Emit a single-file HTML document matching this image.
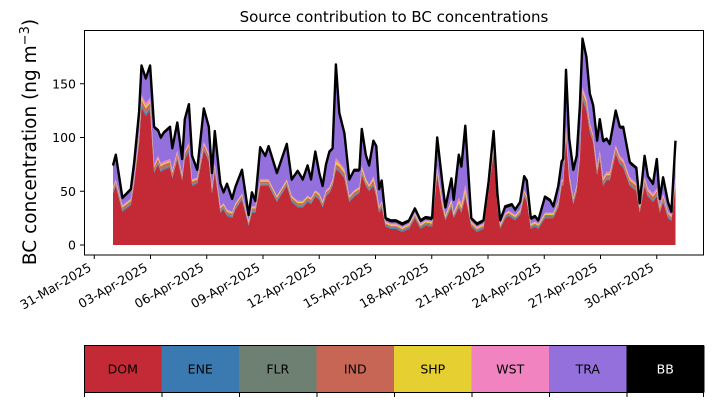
<!DOCTYPE html>
<html><head><meta charset="utf-8"><style>
body{margin:0;background:#fff;}
svg{display:block;font-family:"DejaVu Sans","Liberation Sans",sans-serif;}
</style></head><body>
<svg id="chart" width="714" height="402" viewBox="0 0 714 402">
<text x="394" y="22" text-anchor="middle" font-size="15">Source contribution to BC concentrations</text>
<text transform="translate(36,142) rotate(-90)" text-anchor="middle" font-size="18.5">BC concentration (ng m<tspan dy="-7" font-size="13">−3</tspan><tspan dy="7">)</tspan></text>
<g id="plot"></g>
<g id="xaxis"></g>
<g id="yaxis"></g>
<rect x="84.5" y="30.5" width="619" height="224.5" fill="none" stroke="#000" stroke-width="1"/>
<g id="legend"></g>
</svg>
<script>
const days = [0,0.15,0.5,0.95,1.13,1.39,1.52,1.75,1.98,2.19,2.4,2.55,2.72,3.04,3.16,3.43,3.69,3.83,4.05,4.22,4.49,4.84,5.11,5.28,5.43,5.73,5.9,6.08,6.35,6.53,6.88,7.23,7.41,7.59,7.85,8.12,8.3,8.74,9.27,9.53,9.85,10.12,10.38,10.56,10.79,11.0,11.18,11.36,11.54,11.71,11.89,12.07,12.34,12.6,12.87,13.14,13.27,13.48,13.66,13.89,14.04,14.19,14.33,14.54,14.81,15.08,15.43,15.79,16.1,16.4,16.67,17.02,17.29,17.55,17.73,18.05,18.17,18.44,18.58,18.79,19.11,19.41,19.76,20.03,20.3,20.5,20.65,20.92,21.1,21.27,21.45,21.71,21.93,22.07,22.28,22.5,22.68,23.04,23.3,23.48,23.75,23.93,24.01,24.16,24.33,24.55,24.73,24.9,25.04,25.25,25.43,25.61,25.82,25.96,26.14,26.32,26.49,26.81,27.03,27.21,27.56,27.91,28.09,28.35,28.53,28.8,29.0,29.16,29.34,29.6,29.78,30.0];
const dom = [48,55,31,37,57,95,128,120,125,67,75,68,70,72,62,80,60,80,86,55,57,88,78,48,68,30,33,27,25,33,42,18,30,30,55,55,55,40,55,40,35,35,40,38,45,42,35,45,48,55,70,68,62,40,45,48,65,55,50,55,45,30,35,17,15,15,12,15,25,15,18,17,65,35,23,35,25,35,30,45,17,12,15,50,85,35,15,25,27,25,23,28,45,40,15,17,15,25,25,25,35,55,55,100,60,38,50,80,135,125,105,95,65,80,55,60,60,85,75,72,55,50,30,55,45,40,45,30,40,25,22,55];
const tra = [18,21,5,7,12,17,25,21,28,33,22,22,25,28,18,24,12,27,34,20,5,29,22,11,28,19,8,22,10,13,20,3,11,3,28,20,29,19,31,13,26,18,26,15,34,17,12,22,31,27,85,44,31,13,17,14,32,20,16,31,37,14,17,1,1,1,1,1,2,1,1,1,25,15,5,17,10,38,32,53,1,1,1,1,11,5,1,4,3,6,3,5,11,12,3,3,1,13,10,4,12,15,17,50,30,24,25,40,43,36,25,25,22,27,32,29,24,30,25,28,12,12,1,18,9,7,25,5,13,7,1,32];
const ene = [1,1,1,1,1,2,2,2,2,1,1,1,1,1,1,1,1,1,2,1,1,1,1,1,1,1,1,1,1,1,1,1,1,1,1,1,1,1,1,1,1,1,1,1,1,1,1,1,1,1,1,1,1,1,1,1,1,1,1,1,1,1,1,1,1,1,1,1,1,1,1,1,1,1,1,1,1,1,1,1,1,1,1,1,1,1,1,1,1,1,1,1,1,1,1,1,1,1,1,1,1,1,1,2,1,1,1,1,2,2,2,1,1,1,1,1,1,1,1,1,1,1,1,1,1,1,1,1,1,1,1,1];
const flr = [1,1,1,1,1,1,1,1,1,1,1,1,1,1,1,1,1,1,1,1,1,1,1,1,1,1,1,1,1,1,1,1,1,1,1,1,1,1,1,1,1,1,1,1,1,1,1,1,1,1,1,1,1,1,1,1,1,1,1,1,1,1,1,1,1,1,1,1,1,1,1,1,1,1,1,1,1,1,1,1,1,1,1,1,1,1,1,1,1,1,1,1,1,1,1,1,1,1,1,1,1,1,1,1,1,1,1,1,1,1,1,1,1,1,1,1,1,1,1,1,1,1,1,1,1,1,1,1,1,1,1,1];
const ind = [2,2,2,2,2,3,4,4,4,3,3,3,3,3,3,3,2,3,3,2,2,3,3,2,3,2,2,2,2,2,2,1,2,2,2,2,2,2,2,2,2,2,2,2,2,2,2,2,2,2,3,3,3,2,2,2,3,2,2,3,2,2,2,1,1,1,1,1,1,1,1,1,2,2,1,2,1,2,2,2,1,1,1,2,2,2,1,1,1,1,1,1,2,2,1,1,1,1,1,1,2,2,2,3,2,2,2,3,4,4,3,3,3,3,3,3,3,3,3,3,3,3,2,3,3,3,3,2,3,2,2,3];
const shp = [1,1,1,1,1,2,2,2,2,1,1,1,1,1,1,1,1,1,1,1,1,1,1,1,1,1,1,1,1,1,1,1,1,1,1,1,1,1,1,1,1,1,1,1,1,1,1,1,1,1,3,2,2,1,1,1,2,2,1,2,2,1,1,1,1,1,1,1,1,1,1,1,2,2,1,2,1,2,2,3,1,1,1,1,2,1,1,1,1,1,1,1,1,1,1,1,1,1,1,1,1,1,1,2,1,1,1,1,2,2,1,1,1,1,1,1,1,1,1,1,1,1,1,1,1,1,1,1,1,1,1,1];
const wst = [1,1,1,1,1,2,3,3,3,2,2,2,2,2,2,2,1,2,2,1,1,2,2,1,2,1,1,1,1,1,1,1,1,1,1,1,1,1,1,1,1,1,1,1,1,1,1,1,1,1,3,2,2,1,1,1,2,1,1,2,2,1,1,1,1,1,1,1,1,1,1,1,2,2,1,2,1,3,3,4,1,1,1,1,2,1,1,1,1,1,1,1,1,1,1,1,1,1,1,1,1,1,1,3,2,1,1,2,3,3,2,2,2,2,2,2,2,2,2,2,2,2,1,2,2,2,2,1,2,1,1,2];
const bb = [2,2,2,2,2,2,2,2,2,2,2,2,2,2,2,2,2,2,2,2,2,2,2,2,2,2,2,2,2,2,2,2,2,2,2,2,2,2,2,2,2,2,2,2,2,2,2,2,2,2,2,2,2,2,2,2,2,2,2,2,2,2,2,2,2,2,2,2,2,2,2,2,2,2,2,2,2,2,2,2,2,2,2,2,2,2,2,2,2,2,2,2,2,2,2,2,2,2,2,2,2,2,2,2,2,2,2,2,2,2,2,2,2,2,2,2,2,2,2,2,2,2,2,2,2,2,2,2,2,2,2,2];
const sourceNames = ["DOM","ENE","FLR","IND","SHP","WST","TRA","BB"];
const sourceColors = ["#c42a36","#3a7ab1","#6e8072","#c86656","#e6cf30","#f283c1","#9370db","#000000"];
const yTicks = [0,50,100,150];
const xTickDays = [-1,2,5,8,11,14,17,20,23,26,29];
const xTickLabels = ["31-Mar-2025","03-Apr-2025","06-Apr-2025","09-Apr-2025","12-Apr-2025","15-Apr-2025","18-Apr-2025","21-Apr-2025","24-Apr-2025","27-Apr-2025","30-Apr-2025"];

const NS="http://www.w3.org/2000/svg";
const xs = d => 113 + d*18.75;
const ys = v => 245 - v*1.075;
function mk(tag, attrs, parent){const e=document.createElementNS(NS,tag);for(const k in attrs)e.setAttribute(k,attrs[k]);parent.appendChild(e);return e;}

const layers=[dom,ene,flr,ind,shp,wst,tra,bb];
const N=Math.min(days.length,...layers.map(a=>a.length));
const plot=document.getElementById('plot');
let lower=new Array(N).fill(0);
layers.forEach((arr,li)=>{
  const upper=lower.map((v,i)=>v+arr[i]);
  let pts=[];
  for(let i=0;i<N;i++)pts.push(xs(days[i]).toFixed(1)+","+ys(upper[i]).toFixed(1));
  for(let i=N-1;i>=0;i--)pts.push(xs(days[i]).toFixed(1)+","+ys(lower[i]).toFixed(1));
  const p=mk('polygon',{points:pts.join(' '),fill:sourceColors[li],stroke:'none'},plot);
  
  
  lower=upper;
});
let tp=[];
for(let i=0;i<N;i++)tp.push(xs(days[i]).toFixed(1)+","+ys(lower[i]).toFixed(1));
const tl=mk('polyline',{points:tp.join(' '),fill:'none',stroke:'#000','stroke-width':2.4,'stroke-linejoin':'round'},plot);



const ya=document.getElementById('yaxis');
yTicks.forEach(v=>{
  const y=ys(v);
  const t=mk('line',{x1:80,x2:84,y1:y,y2:y,stroke:'#000'},ya);
  
  
  const l=mk('text',{x:76,y:y+4.5,'text-anchor':'end','font-size':12.5},ya);
  l.textContent=v;
  
  
});
const xa=document.getElementById('xaxis');
xTickDays.forEach((d,i)=>{
  const x=xs(d);
  const t=mk('line',{x1:x,x2:x,y1:255,y2:259,stroke:'#000'},xa);
  
  
  const ax=x-2, ay=270;
  const l=mk('text',{x:ax,y:ay,'text-anchor':'end','font-size':12.5,transform:`rotate(-30 ${ax} ${ay})`},xa);
  l.textContent=xTickLabels[i];
  
  
});

const lg=document.getElementById('legend');
const w=620/sourceNames.length;
sourceNames.forEach((n,i)=>{
  const x=84+i*w;
  const r=mk('rect',{x:x,y:345.5,width:w+0.5,height:47,fill:sourceColors[i]},lg);
  
  
  const t=mk('text',{x:x+w/2,y:373.5,'text-anchor':'middle','font-size':12.5,fill:n==="BB"?"#fff":"#000"},lg);
  t.textContent=n;
  
  
});
for(let i=0;i<=sourceNames.length;i++){
  const x=84.5+i*w - (i===sourceNames.length?1:0);
  const t=mk('line',{x1:x,x2:x,y1:392,y2:397,stroke:'#000'},lg);
  
  
}
const fr=mk('rect',{x:84.5,y:345.5,width:619,height:47,fill:'none',stroke:'#000'},lg);


</script>
</body></html>
